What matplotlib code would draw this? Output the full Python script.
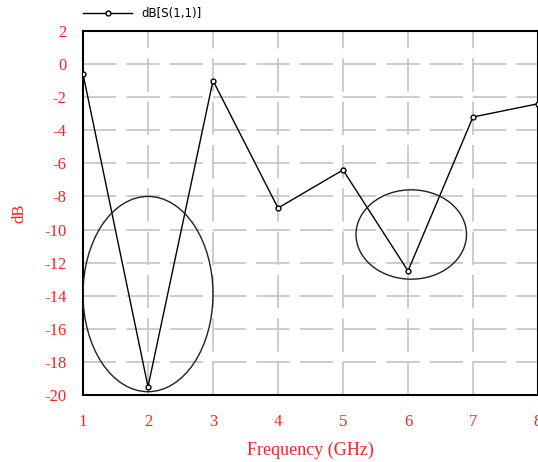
import matplotlib.pyplot as plt
from matplotlib.patches import Ellipse
from matplotlib.lines import Line2D

# S11 return loss samples
freq_ghz = [1, 2, 3, 4, 5, 6, 7, 8]
s11_db = [-0.6, -19.5, -1.0, -8.7, -6.4, -12.5, -3.2, -2.4]

x_ticks = [1, 2, 3, 4, 5, 6, 7, 8]
y_ticks = [2, 0, -2, -4, -6, -8, -10, -12, -14, -16, -18, -20]

# resonances circled on the plot: (centre x, centre y, width, height)
circles = [(2.0, -13.9, 2.0, 11.8), (6.05, -10.3, 1.7, 5.4)]

red = '#ff2020'
serif = 'Liberation Serif'
plt.rcParams['axes.unicode_minus'] = False

fig = plt.figure(figsize=(5.38, 4.62), dpi=100)
ax = fig.add_axes([0.1543, 0.145, 0.8457, 0.788])

ax.plot(freq_ghz, s11_db, color='black', lw=1.0, marker='o', ms=3.5,
        mfc='white', mec='black', mew=1.0, zorder=3)

for cx, cy, w, h in circles:
    ax.add_patch(Ellipse((cx, cy), w, h, fill=False, ec='#202020', lw=1.0, zorder=4))

ax.set_xlim(1, 8)
ax.set_ylim(-20, 2)
ax.set_xticks(x_ticks)
ax.set_yticks(y_ticks)
ax.grid(True, color='#c4c4c4', lw=1.2, ls=(0, (20, 6)))
ax.tick_params(length=0, labelsize=12, labelcolor=red)
ax.tick_params(axis='x', pad=14)
ax.tick_params(axis='y', pad=12)
for lab in ax.get_xticklabels() + ax.get_yticklabels():
    lab.set_family(serif)

for s in ax.spines.values():
    s.set_linewidth(1.5)
    s.set_color('black')

ax.set_xlabel('Frequency (GHz)', color=red, fontsize=13, family=serif, labelpad=8)
ax.set_ylabel('dB', color=red, fontsize=12, family=serif, labelpad=12)

# legend entry above the plot
handle = Line2D([], [], color='black', lw=1.0, marker='o', ms=3.5,
                mfc='white', mec='black')
fig.legend([handle], ['dB[S(1,1)]'], loc='upper left', bbox_to_anchor=(0.145, 0.995),
           frameon=False, fontsize=8.5, handlelength=4.2, borderaxespad=0)

fig.savefig('out.png', dpi=100)
